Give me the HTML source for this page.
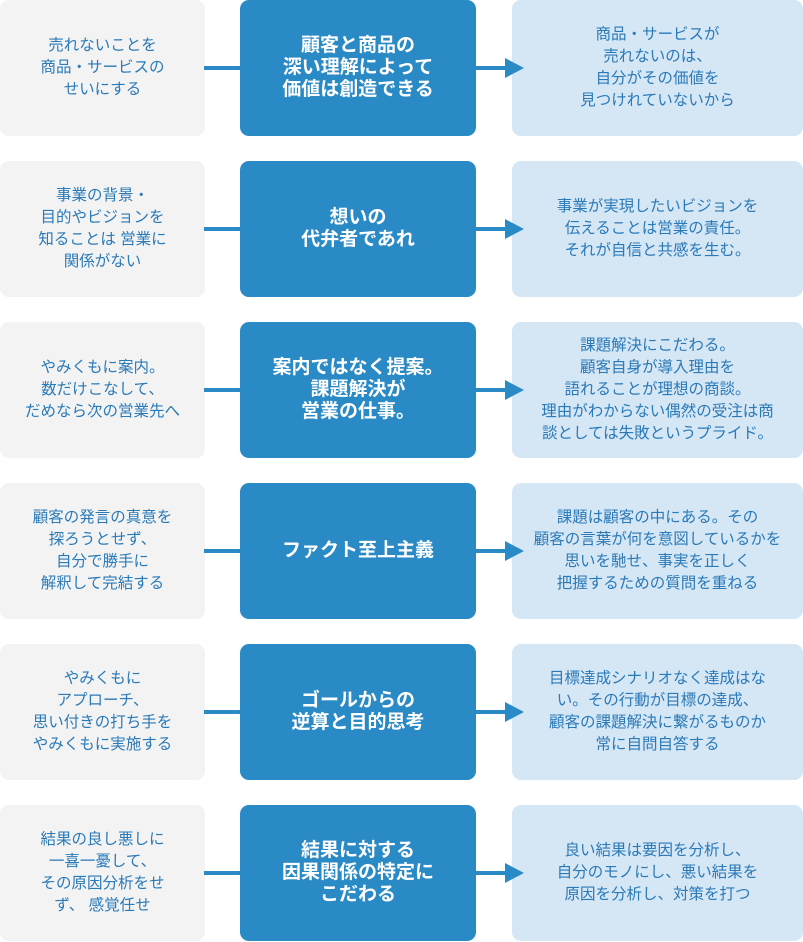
<!DOCTYPE html>
<html><head><meta charset="utf-8"><style>
body{margin:0;width:803px;height:942px;background:#fff;font-family:"Liberation Sans","Noto Sans CJK JP",sans-serif;position:relative;overflow:hidden}
.b{position:absolute;height:136px;border-radius:9px;display:flex;align-items:center;justify-content:center;text-align:center;box-sizing:border-box;white-space:nowrap}
.l{left:0;width:205px;background:#f3f3f3;color:#2a7ab8;font-size:15.5px;line-height:22px}
.m{left:240px;width:236px;background:#2a8ac6;color:#fff;font-size:19px;font-weight:bold;line-height:22px}
.r{left:512px;width:291px;background:#d5e6f5;color:#2a7ab8;font-size:15.5px;line-height:22px}
.ln{position:absolute;height:4px;background:#2a8ac6}
.ah{position:absolute;width:0;height:0;border-top:10px solid transparent;border-bottom:10px solid transparent;border-left:19px solid #2a8ac6}
</style></head><body>
<div class="b l" style="top:0">売れないことを<br>商品・サービスの<br>せいにする</div>
<div class="b m" style="top:0">顧客と商品の<br>深い理解によって<br>価値は創造できる</div>
<div class="b r" style="top:0">商品・サービスが<br>売れないのは、<br>自分がその価値を<br>見つけれていないから</div>

<div class="b l" style="top:161px">事業の背景・<br>目的やビジョンを<br>知ることは 営業に<br>関係がない</div>
<div class="b m" style="top:161px">想いの<br>代弁者であれ</div>
<div class="b r" style="top:161px">事業が実現したいビジョンを<br>伝えることは営業の責任。<br>それが自信と共感を生む。</div>

<div class="b l" style="top:322px">やみくもに案内。<br>数だけこなして、<br>だめなら次の営業先へ</div>
<div class="b m" style="top:322px">案内ではなく提案。<br>課題解決が<br>営業の仕事。</div>
<div class="b r" style="top:322px">課題解決にこだわる。<br>顧客自身が導入理由を<br>語れることが理想の商談。<br>理由がわからない偶然の受注は商<br>談としては失敗というプライド。</div>

<div class="b l" style="top:483px">顧客の発言の真意を<br>探ろうとせず、<br>自分で勝手に<br>解釈して完結する</div>
<div class="b m" style="top:483px">ファクト至上主義</div>
<div class="b r" style="top:483px">課題は顧客の中にある。その<br>顧客の言葉が何を意図しているかを<br>思いを馳せ、事実を正しく<br>把握するための質問を重ねる</div>

<div class="b l" style="top:644px">やみくもに<br>アプローチ、<br>思い付きの打ち手を<br>やみくもに実施する</div>
<div class="b m" style="top:644px">ゴールからの<br>逆算と目的思考</div>
<div class="b r" style="top:644px">目標達成シナリオなく達成はな<br>い。その行動が目標の達成、<br>顧客の課題解決に繋がるものか<br>常に自問自答する</div>

<div class="b l" style="top:805px">結果の良し悪しに<br>一喜一憂して、<br>その原因分析をせ<br>ず、 感覚任せ</div>
<div class="b m" style="top:805px">結果に対する<br>因果関係の特定に<br>こだわる</div>
<div class="b r" style="top:805px">良い結果は要因を分析し、<br>自分のモノにし、悪い結果を<br>原因を分析し、対策を打つ</div>

<div class="ln" style="left:204px;width:36px;top:66px"></div><div class="ln" style="left:476px;width:32px;top:66px"></div><div class="ah" style="left:505px;top:58px"></div>
<div class="ln" style="left:204px;width:36px;top:227px"></div><div class="ln" style="left:476px;width:32px;top:227px"></div><div class="ah" style="left:505px;top:219px"></div>
<div class="ln" style="left:204px;width:36px;top:388px"></div><div class="ln" style="left:476px;width:32px;top:388px"></div><div class="ah" style="left:505px;top:380px"></div>
<div class="ln" style="left:204px;width:36px;top:549px"></div><div class="ln" style="left:476px;width:32px;top:549px"></div><div class="ah" style="left:505px;top:541px"></div>
<div class="ln" style="left:204px;width:36px;top:710px"></div><div class="ln" style="left:476px;width:32px;top:710px"></div><div class="ah" style="left:505px;top:702px"></div>
<div class="ln" style="left:204px;width:36px;top:871px"></div><div class="ln" style="left:476px;width:32px;top:871px"></div><div class="ah" style="left:505px;top:863px"></div>
</body></html>
